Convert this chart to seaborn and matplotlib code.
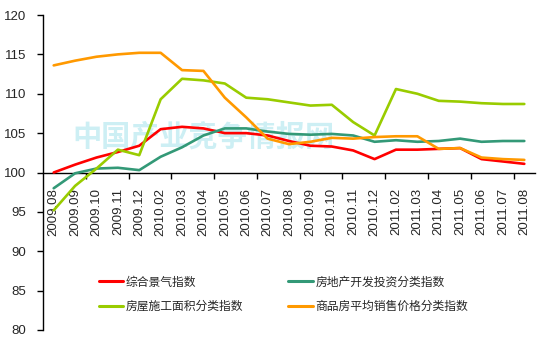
import matplotlib
matplotlib.use("Agg")
import matplotlib.pyplot as plt
import seaborn as sns
import pandas as pd
import numpy as np

months = ["2009.08", "2009.09", "2009.10", "2009.11", "2009.12",
          "2010.02", "2010.03", "2010.04", "2010.05", "2010.06", "2010.07",
          "2010.08", "2010.09", "2010.10", "2010.11", "2010.12",
          "2011.02", "2011.03", "2011.04", "2011.05", "2011.06", "2011.07", "2011.08"]

composite = [100.0, 101.0, 101.9, 102.6, 103.4, 105.5, 105.8, 105.6, 105.0, 105.0, 104.7,
             104.0, 103.4, 103.3, 102.8, 101.7, 102.9, 102.9, 103.0, 103.1, 101.7, 101.4, 101.1]
investment = [98.0, 99.9, 100.5, 100.6, 100.3, 102.0, 103.2, 104.7, 105.6, 105.6, 105.2,
              104.9, 104.8, 104.9, 104.7, 103.9, 104.1, 103.9, 104.0, 104.3, 103.9, 104.0, 104.0]
construction = [95.2, 98.3, 100.5, 102.9, 102.2, 109.3, 111.9, 111.7, 111.3, 109.5, 109.3,
                108.9, 108.5, 108.6, 106.4, 104.7, 110.6, 110.0, 109.1, 109.0, 108.8, 108.7, 108.7]
price = [113.6, 114.2, 114.7, 115.0, 115.2, 115.2, 113.0, 112.9, 109.5, 107.0, 104.3,
         103.6, 103.9, 104.4, 104.3, 104.5, 104.6, 104.6, 103.0, 103.1, 101.9, 101.7, 101.6]

series_names = ["综合景气指数", "房地产开发投资分类指数", "房屋施工面积分类指数", "商品房平均销售价格分类指数"]
series_values = [composite, investment, construction, price]
colors = ["#FF0000", "#339977", "#99CC00", "#FF9900"]

y_ticks = [80, 85, 90, 95, 100, 105, 110, 115, 120]
watermark = "中国产业竞争情报网"

rows = []
for name, vals in zip(series_names, series_values):
    for i, (m, v) in enumerate(zip(months, vals)):
        rows.append({"idx": i, "month": m, "value": v, "series": name})
df = pd.DataFrame(rows)

sns.set_theme(style="white")
plt.rcParams["font.family"] = ["Liberation Sans", "Noto Sans CJK SC", "DejaVu Sans"]

fig = plt.figure(figsize=(5.37, 3.54), dpi=100)
ax = fig.add_axes([43 / 537, 1 - 330 / 354, (535 - 43) / 537, (330 - 15) / 354])

# watermark
ax.text(0.06, 0.615, watermark, transform=ax.transAxes, fontsize=21, fontweight="bold",
        color="#CDEFF4", ha="left", va="center", zorder=0,
        family=["Noto Sans CJK SC"])

sns.lineplot(data=df, x="idx", y="value", hue="series", hue_order=series_names,
             palette=colors, linewidth=1.9, sort=False, ax=ax, legend=True, zorder=3)

for s in ["top", "right"]:
    ax.spines[s].set_visible(False)
ax.spines["left"].set_color("black")
ax.spines["left"].set_linewidth(1)
ax.spines["bottom"].set_position(("data", 100))
ax.spines["bottom"].set_color("black")
ax.spines["bottom"].set_linewidth(1)
ax.grid(False)

ax.set_xlim(-0.5, len(months) - 0.5)
ax.set_ylim(80, 120)
ax.set_yticks(y_ticks)
ax.set_yticklabels([str(t) for t in y_ticks], fontsize=9.5)
ax.set_xticks(range(len(months)))
ax.set_xticklabels(months, rotation=90, fontsize=9.5, va="top", ha="center")
ax.set_xticks([1.5 + 2 * k for k in range(11)], minor=True)
ax.tick_params(axis="x", which="major", length=0, pad=11)
ax.tick_params(axis="x", which="minor", length=4, width=1, color="black", direction="out", bottom=True)
ax.tick_params(axis="y", which="major", length=4, width=1, color="black", direction="out", left=True, pad=8)
ax.set_xlabel("")
ax.set_ylabel("")

handles, labels = ax.get_legend_handles_labels()
order = [0, 2, 1, 3]
leg = ax.legend([handles[i] for i in order], [labels[i] for i in order], ncol=2,
                frameon=False, fontsize=8.5,
                loc="upper left", bbox_to_anchor=(88 / 537, 1 - 266 / 354),
                bbox_transform=fig.transFigure, handlelength=2.1, handletextpad=0.2,
                columnspacing=3.8, labelspacing=1.05)
for line in leg.get_lines():
    line.set_linewidth(2.2)

fig.savefig("out.png", dpi=100)
